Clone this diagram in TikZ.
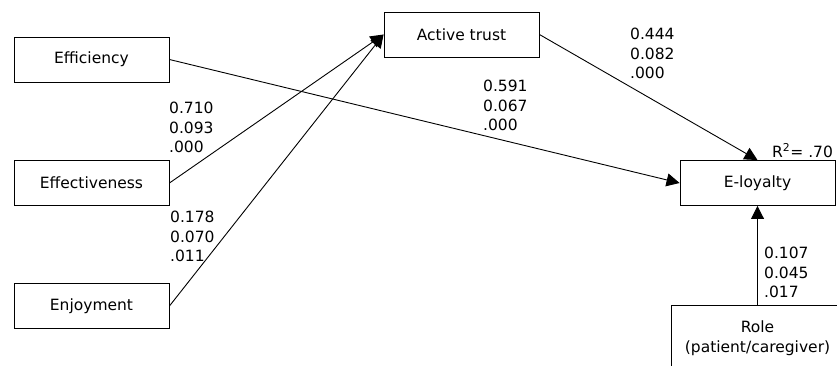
\documentclass[tikz,border=0pt]{standalone}
\usepackage{fontspec}
\setmainfont{DejaVu Sans}
\usetikzlibrary{arrows.meta}
\begin{document}
\begin{tikzpicture}[x=1pt,y=-1pt,
	construct/.style={draw,line width=0.9pt,minimum width=155pt,minimum height=45pt,inner sep=0pt,font=\fontsize{15.5}{19.5}\selectfont,align=center},
	coef/.style={anchor=north west,inner sep=0pt,align=left,font=\fontsize{15.5}{19.5}\selectfont},
	path/.style={line width=0.9pt,-{Triangle[length=13pt,width=13pt]}}]
	\useasboundingbox (0,0) rectangle (837,365);
	\node[construct] (effic) at (91.5,59.5) {Efficiency};
	\node[construct] (effect) at (91.5,183) {Effectiveness};
	\node[construct] (enjoy) at (91.5,306) {Enjoyment};
	\node[construct] (trust) at (461.5,34.5) {Active trust};
	\node[construct] (loyal) at (757.5,183) {E-loyalty};
	\node[construct,minimum width=173pt,minimum height=66pt] (role) at (757.5,338) {Role\\(patient/caregiver)};
	\draw[path] (effect.east) -- (trust.west);
	\draw[path] (enjoy.east) -- (trust.west);
	\draw[path] (effic.east) -- (loyal.west);
	\draw[path] (trust.east) -- (loyal.north);
	\draw[path] (role.north) -- (loyal.south);
	\node[coef] (effectval) at (169,102) {0.710\\0.093\\.000};
	\node[coef] (enjoyval) at (170,211) {0.178\\0.070\\.011};
	\node[coef] (efficval) at (483,80) {0.591\\0.067\\.000};
	\node[coef] (trustval) at (630,28) {0.444\\0.082\\.000};
	\node[coef] (roleval) at (764,247) {0.107\\0.045\\.017};
	\node[anchor=base west,inner sep=0pt,font=\fontsize{15.5}{19.5}\selectfont] (rsq) at (772,157) {R\textsuperscript{2}= .70};
\end{tikzpicture}
\end{document}
